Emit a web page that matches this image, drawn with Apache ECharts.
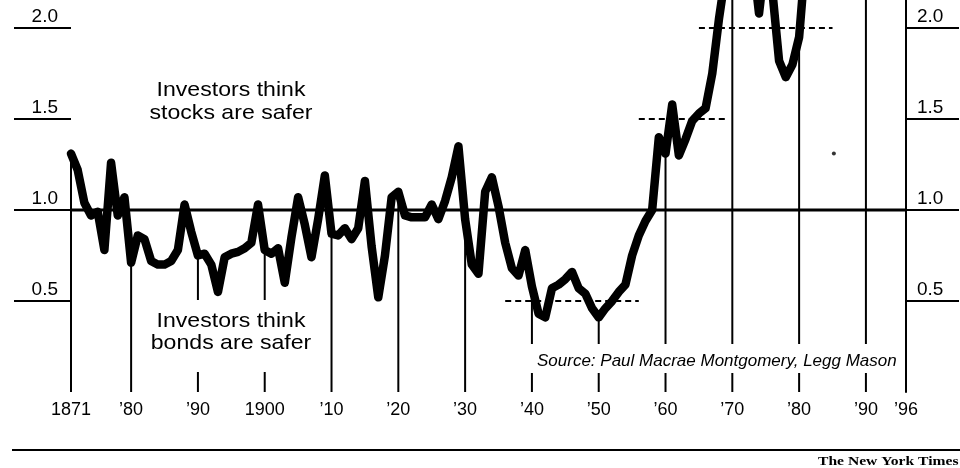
<!DOCTYPE html>
<html><head><meta charset="utf-8">
<script src="https://cdn.jsdelivr.net/npm/echarts@6/dist/echarts.min.js"></script>
<style>html,body{margin:0;padding:0;background:#fff}#c{width:960px;height:468px}</style>
</head><body><div id="c"></div>
<script>
const startYear = 1871;
const ratio = [
  1.31,1.22,1.04,0.97,0.99,0.78,1.26,0.97,1.07,0.71,
  0.86,0.84,0.72,0.70,0.70,0.72,0.78,1.03,0.88,0.75,
  0.76,0.70,0.55,0.74,0.76,0.77,0.79,0.82,1.03,0.78,
  0.76,0.79,0.60,0.85,1.07,0.92,0.74,0.95,1.19,0.87,
  0.86,0.90,0.84,0.90,1.16,0.80,0.52,0.75,1.07,1.10,
  0.97,0.96,0.96,0.96,1.03,0.95,1.05,1.18,1.35,0.95,
  0.70,0.65,1.10,1.18,1.02,0.82,0.68,0.64,0.78,0.58,
  0.43,0.41,0.57,0.59,0.62,0.66,0.57,0.54,0.46,0.41,
  0.46,0.50,0.55,0.59,0.75,0.86,0.94,1.00,1.40,1.31,
  1.58,1.30,1.39,1.49,1.53,1.56,1.75,2.05,2.30,2.50,
  2.50,2.60,2.40,2.08,2.40,2.20,1.82,1.73,1.80,1.95,
  2.40,2.50,2.60,2.50,2.60,2.70,2.60,2.70,2.80,2.70,
  2.80,2.90,2.90,2.80,3.00,3.20
];
const decadeYears = [1871,1880,1890,1900,1910,1920,1930,1940,1950,1960,1970,1980,1990];
const tickYears = [1871,1880,1890,1900,1910,1920,1930,1940,1950,1960,1970,1980,1990,1996];
const tickLabels = ['1871','\u201980','\u201990','1900','\u201910','\u201920','\u201930','\u201940','\u201950','\u201960','\u201970','\u201980','\u201990','\u201996'];
const yTicks = [0.5, 1.0, 1.5, 2.0];
const yTickLabels = ['0.5','1.0','1.5','2.0'];
const averages = [[1936,1956,0.5],[1956,1969,1.5],[1965,1985,2.0]];
const strayDot = [[1985.2,1.31]];
const parityLevel = 1.0;

const FONT = '"Liberation Sans", Arial, Helvetica, sans-serif';
const chart = echarts.init(document.getElementById('c'));
const lineData = ratio.map((v,i)=>[startYear+i, v]);
const barData = decadeYears.map(y=>[y, ratio[y-startYear]]);

const yAxisCommon = {
  type:'value', min:0, max:2.154, splitLine:{show:false},
  axisTick:{show:true, customValues:yTicks, lineStyle:{color:'#000', width:2}},
  axisLabel:{customValues:yTicks, formatter:v=>yTickLabels[yTicks.indexOf(v)] ?? '',
    color:'#000', fontSize:19, fontFamily:FONT, verticalAlign:'bottom', padding:[0,0,2,0]}
};

const series = [
  {type:'bar', data:barData, barWidth:2, itemStyle:{color:'#000'}, clip:false, z:1, silent:true},
  {type:'line', data:[[startYear,parityLevel],[1996,parityLevel]], symbol:'none',
   lineStyle:{color:'#000', width:3}, z:3, silent:true},
  {type:'line', data:lineData, symbol:'none', clip:false,
   lineStyle:{color:'#000', width:8.5, cap:'round', join:'round'}, z:5, silent:true}
];
averages.forEach(a=>{
  series.push({type:'line', data:[[a[0],a[2]],[a[1],a[2]]], symbol:'none',
    lineStyle:{color:'#000', width:2, type:[6,4]}, z:4, silent:true});
});
series.push({type:'scatter', data:strayDot, symbolSize:4, itemStyle:{color:'#000'}, z:4, silent:true});

chart.setOption({
  animation:false,
  grid:{left:71, right:54, top:0, bottom:76, containLabel:false},
  xAxis:{type:'value', min:1871, max:1996, splitLine:{show:false},
    axisLine:{show:false}, axisTick:{show:false},
    axisLabel:{customValues:tickYears, formatter:v=>tickLabels[tickYears.indexOf(v)] ?? '',
      color:'#000', fontSize:18, fontFamily:FONT, margin:9}},
  yAxis:[
    Object.assign({}, yAxisCommon, {position:'left', axisLine:{show:false},
      axisTick:Object.assign({}, yAxisCommon.axisTick, {length:57}),
      axisLabel:Object.assign({}, yAxisCommon.axisLabel, {margin:13, align:'right'})}),
    Object.assign({}, yAxisCommon, {position:'right', axisLine:{show:true, lineStyle:{color:'#000', width:2}},
      axisTick:Object.assign({}, yAxisCommon.axisTick, {length:53}),
      axisLabel:Object.assign({}, yAxisCommon.axisLabel, {margin:11, align:'left'})})
  ],
  series:series,
  graphic:{elements:[
    {type:'rect', z:50, shape:{x:140, y:300, width:182, height:72}, style:{fill:'#fff'}},
    {type:'rect', z:50, shape:{x:530, y:344, width:373, height:29}, style:{fill:'#fff'}},
    {type:'text', z:51, x:231, y:102, scaleX:1.1, style:{text:'Investors think\nstocks are safer', align:'center', verticalAlign:'middle',
      font:'21px '+FONT, fill:'#000', lineHeight:23}},
    {type:'text', z:51, x:231, y:332, scaleX:1.1, style:{text:'Investors think\nbonds are safer', align:'center', verticalAlign:'middle',
      font:'21px '+FONT, fill:'#000', lineHeight:22}},
    {type:'text', z:51, x:537, y:361, style:{text:'Source: Paul Macrae Montgomery, Legg Mason', align:'left', verticalAlign:'middle',
      font:'italic 17px '+FONT, fill:'#000'}},
    {type:'line', z:51, shape:{x1:12, y1:450, x2:960, y2:450}, style:{stroke:'#000', lineWidth:2}},
    {type:'text', z:51, x:818, y:462, scaleX:1.3, style:{text:'The New York Times', align:'left', verticalAlign:'middle',
      font:'bold 12px "Liberation Serif", "Times New Roman", serif', fill:'#000'}}
  ]}
});
</script></body></html>
